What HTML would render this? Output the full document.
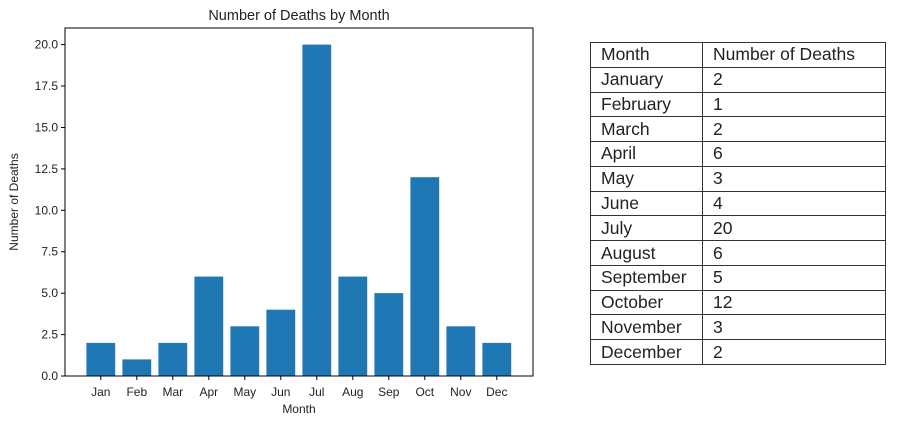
<!DOCTYPE html>
<html><head><meta charset="utf-8"><style>
body{margin:0;background:#fff;width:900px;height:431px;overflow:hidden;position:relative}
svg{position:absolute;left:0;top:0}
table{position:absolute;left:590px;top:42px;height:323px;border-collapse:collapse;font-family:"Liberation Sans",sans-serif;font-size:17.5px;color:#222}
td{border:1px solid #333;padding:0 0 0 10px;box-sizing:border-box}
td:first-child{width:112px}
td:last-child{width:183px}
</style></head><body>
<svg width="900" height="431" font-family="Liberation Sans, DejaVu Sans, sans-serif">
<g fill="#1f77b4">
<rect x="86.4" y="342.9" width="28.8" height="33.1"/>
<rect x="122.4" y="359.4" width="28.8" height="16.6"/>
<rect x="158.4" y="342.9" width="28.8" height="33.1"/>
<rect x="194.4" y="276.6" width="28.8" height="99.4"/>
<rect x="230.4" y="326.3" width="28.8" height="49.7"/>
<rect x="266.4" y="309.7" width="28.8" height="66.3"/>
<rect x="302.4" y="44.6" width="28.8" height="331.4"/>
<rect x="338.4" y="276.6" width="28.8" height="99.4"/>
<rect x="374.4" y="293.1" width="28.8" height="82.9"/>
<rect x="410.4" y="177.2" width="28.8" height="198.8"/>
<rect x="446.4" y="326.3" width="28.8" height="49.7"/>
<rect x="482.4" y="342.9" width="28.8" height="33.1"/>
</g>
<rect x="65" y="28" width="468" height="348" fill="none" stroke="#000" stroke-width="1"/>
<g stroke="#000" stroke-width="1">
<line x1="61" x2="65" y1="376" y2="376"/><line x1="61" x2="65" y1="334.6" y2="334.6"/>
<line x1="61" x2="65" y1="293.2" y2="293.2"/><line x1="61" x2="65" y1="251.7" y2="251.7"/>
<line x1="61" x2="65" y1="210.3" y2="210.3"/><line x1="61" x2="65" y1="168.9" y2="168.9"/>
<line x1="61" x2="65" y1="127.5" y2="127.5"/><line x1="61" x2="65" y1="86" y2="86"/>
<line x1="61" x2="65" y1="44.6" y2="44.6"/>
</g>
<g font-size="12" fill="#222" text-anchor="end">
<text x="58" y="380">0.0</text><text x="58" y="338.6">2.5</text><text x="58" y="297.2">5.0</text>
<text x="58" y="255.7">7.5</text><text x="58" y="214.3">10.0</text><text x="58" y="172.9">12.5</text>
<text x="58" y="131.5">15.0</text><text x="58" y="90">17.5</text><text x="58" y="48.6">20.0</text>
</g>
<g stroke="#000"><line x1="100.8" x2="100.8" y1="376" y2="380"/><line x1="136.8" x2="136.8" y1="376" y2="380"/><line x1="172.8" x2="172.8" y1="376" y2="380"/><line x1="208.8" x2="208.8" y1="376" y2="380"/><line x1="244.8" x2="244.8" y1="376" y2="380"/><line x1="280.8" x2="280.8" y1="376" y2="380"/><line x1="316.8" x2="316.8" y1="376" y2="380"/><line x1="352.8" x2="352.8" y1="376" y2="380"/><line x1="388.8" x2="388.8" y1="376" y2="380"/><line x1="424.8" x2="424.8" y1="376" y2="380"/><line x1="460.8" x2="460.8" y1="376" y2="380"/><line x1="496.8" x2="496.8" y1="376" y2="380"/></g>
<g font-size="12" fill="#222" text-anchor="middle">
<text x="100.8" y="396">Jan</text><text x="136.8" y="396">Feb</text><text x="172.8" y="396">Mar</text><text x="208.8" y="396">Apr</text><text x="244.8" y="396">May</text><text x="280.8" y="396">Jun</text><text x="316.8" y="396">Jul</text><text x="352.8" y="396">Aug</text><text x="388.8" y="396">Sep</text><text x="424.8" y="396">Oct</text><text x="460.8" y="396">Nov</text><text x="496.8" y="396">Dec</text>
<text x="299" y="413">Month</text>
<text x="299" y="20" font-size="14.5">Number of Deaths by Month</text>
<text transform="translate(18,202) rotate(-90)">Number of Deaths</text>
</g>
</svg>
<table>
<tr><td>Month</td><td>Number of Deaths</td></tr>
<tr><td>January</td><td>2</td></tr>
<tr><td>February</td><td>1</td></tr>
<tr><td>March</td><td>2</td></tr>
<tr><td>April</td><td>6</td></tr>
<tr><td>May</td><td>3</td></tr>
<tr><td>June</td><td>4</td></tr>
<tr><td>July</td><td>20</td></tr>
<tr><td>August</td><td>6</td></tr>
<tr><td>September</td><td>5</td></tr>
<tr><td>October</td><td>12</td></tr>
<tr><td>November</td><td>3</td></tr>
<tr><td>December</td><td>2</td></tr>
</table>
</body></html>
